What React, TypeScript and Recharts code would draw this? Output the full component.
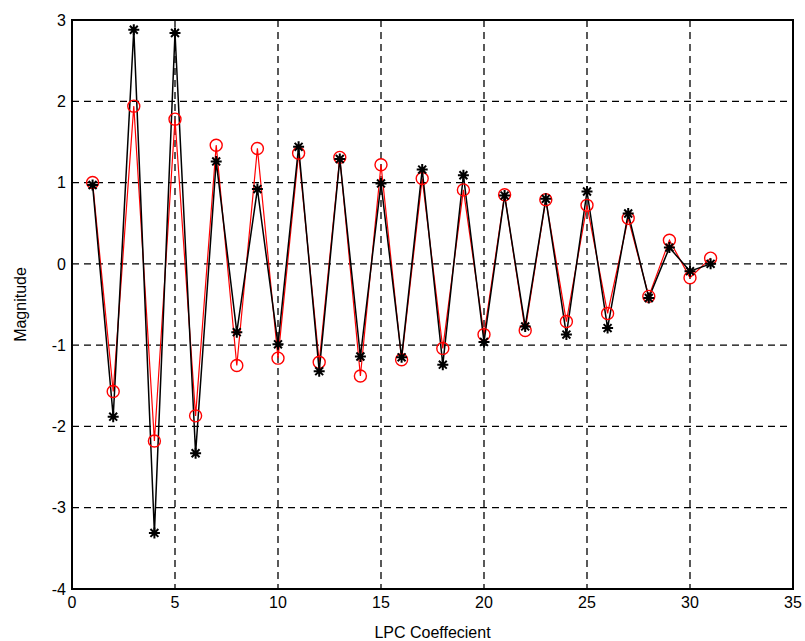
import React from "react";
import {
  LineChart,
  Line,
  XAxis,
  YAxis,
  CartesianGrid,
  ReferenceArea,
} from "recharts";

const coeffIndex = [
  1, 2, 3, 4, 5, 6, 7, 8, 9, 10, 11, 12, 13, 14, 15, 16, 17, 18, 19, 20, 21,
  22, 23, 24, 25, 26, 27, 28, 29, 30, 31,
];

// black line, asterisk markers
const lpcActual = [
  0.97, -1.88, 2.88, -3.31, 2.84, -2.33, 1.26, -0.84, 0.92, -0.99, 1.44, -1.32,
  1.29, -1.14, 0.99, -1.15, 1.16, -1.24, 1.09, -0.96, 0.84, -0.77, 0.8, -0.87,
  0.89, -0.79, 0.62, -0.42, 0.2, -0.09, 0.0,
];

// red line, circle markers
const lpcEstimated = [
  1.0, -1.57, 1.94, -2.18, 1.78, -1.87, 1.46, -1.25, 1.42, -1.16, 1.36, -1.21,
  1.31, -1.38, 1.22, -1.18, 1.05, -1.04, 0.91, -0.87, 0.85, -0.82, 0.79, -0.71,
  0.72, -0.61, 0.56, -0.4, 0.29, -0.17, 0.07,
];

const xTicks = [0, 5, 10, 15, 20, 25, 30, 35];
const yTicks = [-4, -3, -2, -1, 0, 1, 2, 3];

const data = coeffIndex.map((n, i) => ({
  n,
  actual: lpcActual[i],
  estimated: lpcEstimated[i],
}));

const font = "'Liberation Sans', Arial, sans-serif";

const StarDot = (props: any) => {
  const { cx, cy, key } = props;
  if (cx == null || cy == null) return null;
  const r = 5.5;
  const d = r * 0.72;
  return (
    <path
      key={key}
      d={`M${cx - r},${cy}L${cx + r},${cy}M${cx},${cy - r}L${cx},${cy + r}M${cx - d},${cy - d}L${cx + d},${cy + d}M${cx - d},${cy + d}L${cx + d},${cy - d}`}
      stroke="#000"
      strokeWidth={2}
      fill="none"
    />
  );
};

const CircleDot = (props: any) => {
  const { cx, cy, key } = props;
  if (cx == null || cy == null) return null;
  return (
    <circle
      key={key}
      cx={cx}
      cy={cy}
      r={6}
      stroke="#ff0000"
      strokeWidth={1.4}
      fill="none"
    />
  );
};

export default function App() {
  return (
    <div
      style={{
        position: "absolute",
        left: 0,
        top: 0,
        width: 805,
        height: 641,
        background: "#fff",
      }}
    >
      <LineChart
        width={805}
        height={641}
        data={data}
        margin={{ top: 20, right: 12, left: 0, bottom: 0 }}
      >
        <CartesianGrid
          stroke="#000"
          strokeDasharray="7 5"
          strokeWidth={1.3}
          horizontalValues={yTicks}
          verticalValues={xTicks}
        />
        <XAxis
          dataKey="n"
          type="number"
          domain={[0, 35]}
          ticks={xTicks}
          height={52}
          tickLine={false}
          axisLine={false}
          tickSize={4}
          tickMargin={4}
          tick={{ fill: "#000", fontSize: 16, fontFamily: font }}
          label={{
            value: "LPC Coeffecient",
            position: "insideBottom",
            offset: 3,
            fill: "#000",
            fontSize: 16,
            fontFamily: font,
          }}
        />
        <YAxis
          type="number"
          domain={[-4, 3]}
          ticks={yTicks}
          width={72}
          tickLine={false}
          axisLine={false}
          tickSize={4}
          tickMargin={2}
          tick={{ fill: "#000", fontSize: 16, fontFamily: font }}
          label={{
            value: "Magnitude",
            angle: -90,
            position: "insideLeft",
            offset: 20,
            fill: "#000",
            fontSize: 16,
            fontFamily: font,
            style: { textAnchor: "middle" },
          }}
        />
        <ReferenceArea
          x1={0}
          x2={35}
          y1={-4}
          y2={3}
          fill="none"
          fillOpacity={0}
          stroke="#000"
          strokeWidth={2}
          ifOverflow="visible"
        />
        <Line
          type="linear"
          dataKey="estimated"
          stroke="#ff0000"
          strokeWidth={1.2}
          dot={CircleDot}
          activeDot={false}
          isAnimationActive={false}
        />
        <Line
          type="linear"
          dataKey="actual"
          stroke="#000"
          strokeWidth={1.5}
          dot={StarDot}
          activeDot={false}
          isAnimationActive={false}
        />
      </LineChart>
    </div>
  );
}
